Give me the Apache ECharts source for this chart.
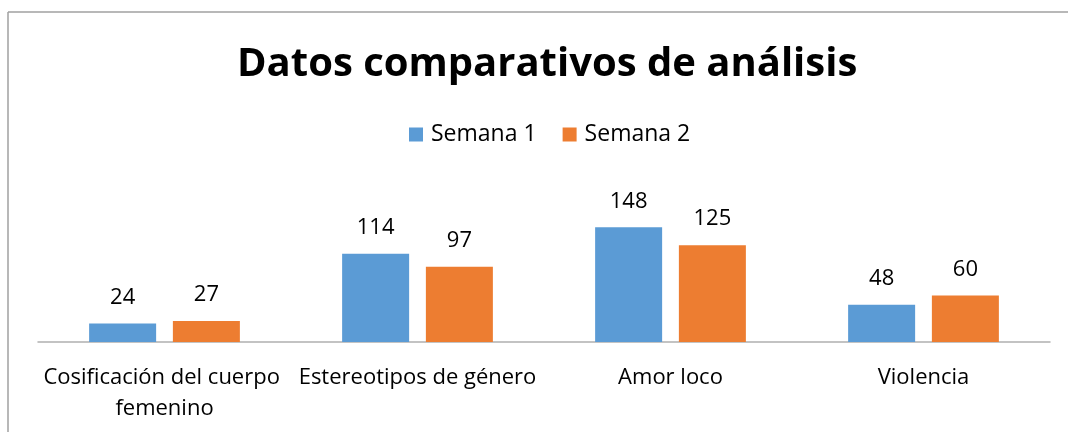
<!DOCTYPE html>
<html>
<head>
<meta charset="utf-8">
<script src="https://cdn.jsdelivr.net/npm/echarts@6/dist/echarts.min.js"></script>
<style>
  html, body { margin: 0; padding: 0; background: #fff; }
  #chart { width: 1068px; height: 432px; }
</style>
</head>
<body>
<div id="chart"></div>
<script>
// datos
var categories = ['Cosificación del cuerpo femenino', 'Estereotipos de género', 'Amor loco', 'Violencia'];
var seriesNames = ['Semana 1', 'Semana 2'];
var semana1 = [24, 114, 148, 48];
var semana2 = [27, 97, 125, 60];

var font = 'Open Sans';

var myChart = echarts.init(document.getElementById('chart'));

var option = {
    animation: false,
    backgroundColor: '#fff',
    title: {
        text: 'Datos comparativos de análisis',
        left: 237,
        top: 45,
        padding: 0,
        textStyle: {fontFamily: font, fontSize: 40, fontWeight: 'bold', color: '#000'}
    },
    legend: {
        data: seriesNames,
        left: 409,
        top: 123,
        padding: 0,
        itemWidth: 14,
        itemHeight: 14,
        itemGap: 26,
        icon: 'rect',
        textStyle: {fontFamily: font, fontSize: 23, color: '#000', padding: [0, 0, 0, 3]}
    },
    grid: {left: 38, right: 18, top: 187, bottom: 90, containLabel: false},
    xAxis: {
        type: 'category',
        data: categories,
        axisLine: {lineStyle: {color: '#b0b0b0', width: 1.5}},
        axisTick: {show: false},
        axisLabel: {
            fontFamily: font, fontSize: 22, color: '#000',
            margin: 20, lineHeight: 31, interval: 0,
            width: 252, overflow: 'break'
        }
    },
    yAxis: {
        type: 'value',
        min: 0,
        max: 200,
        show: false,
        splitLine: {show: false}
    },
    series: [
        {
            name: seriesNames[0], type: 'bar', data: semana1,
            barWidth: 67, barGap: '25%',
            itemStyle: {color: '#5B9BD5'},
            label: {show: true, position: 'top', distance: 15, fontFamily: font, fontSize: 22, color: '#000'}
        },
        {
            name: seriesNames[1], type: 'bar', data: semana2,
            barWidth: 67,
            itemStyle: {color: '#ED7D31'},
            label: {show: true, position: 'top', distance: 15, fontFamily: font, fontSize: 22, color: '#000'}
        }
    ],
    graphic: [
        // marco del gráfico (solo arriba e izquierda se ven)
        {type: 'line', shape: {x1: 8, y1: 12, x2: 1068, y2: 12}, style: {stroke: '#a0a0a0', lineWidth: 1.5}},
        {type: 'line', shape: {x1: 8, y1: 12, x2: 8, y2: 432}, style: {stroke: '#a0a0a0', lineWidth: 1.5}}
    ]
};

myChart.setOption(option);
</script>
</body>
</html>
